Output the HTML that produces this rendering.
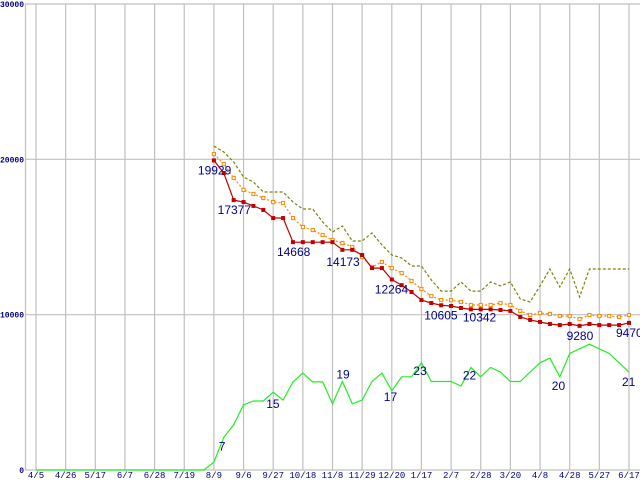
<!DOCTYPE html>
<html><head><meta charset="utf-8"><style>
html,body{margin:0;padding:0;background:#fff;}
svg{display:block;font-family:"Liberation Mono","DejaVu Sans Mono",monospace;}
</style></head><body>
<svg id="chart" width="640" height="480" viewBox="0 0 640 480" xmlns="http://www.w3.org/2000/svg"></svg>
<script>
const xLabels=["4/5","4/26","5/17","6/7","6/28","7/19","8/9","9/6","9/27","10/18","11/8","11/29","12/20","1/17","2/7","2/28","3/20","4/8","4/28","5/27","6/17"];
const yTicks=[0,10000,20000,30000];
const redVals=[19929,19120,17377,17250,17000,16740,16220,16220,14668,14668,14668,14668,14668,14173,14173,13840,13000,13000,12264,11900,11460,10940,10750,10605,10560,10430,10342,10342,10342,10300,10240,9850,9660,9530,9400,9330,9400,9280,9400,9330,9330,9330,9470];
const orangeVals=[20340,19700,18800,18030,17770,17510,17250,17190,16220,15640,15450,15130,14810,14610,14360,13710,13070,13390,13000,12680,12170,11650,11200,10940,10940,10820,10620,10620,10620,10750,10620,10240,9980,10110,10040,9910,9910,9720,9980,9910,9910,9850,9980];
const oliveVals=[20860,20470,19830,18860,18540,17900,17900,17900,17250,16800,16800,15970,15320,15710,14740,14740,15260,14490,13840,13650,13130,13130,12230,11520,11520,12100,11520,11520,12100,11850,12100,11010,10820,11850,12940,11780,12940,11140,12940,12940,12940,12940,12940];
const greenVals=[0,0,0,0,0,0,0,0,0,0,0,0,0,0,0,0,0,0,1.7,7,9.7,14,14.8,14.8,16.7,15,18.9,20.8,18.9,18.9,14.2,19,14.2,15,19,20.8,17,20,20,23,19,19,19,18,22,20,22,21,19,19,21,23,24,20,25,26,27,26,25,23,21];
const redLabels=[[0,"19929",-16,14],[2,"17377",-16,14],[8,"14668",-16,14],[13,"14173",-16,16],[18,"12264",-17,14],[23,"10605",-17,14],[26,"10342",-8,12],[37,"9280",-13,14],[42,"9470",-13,14]];
const greenLabels=[[19,"7",-5,13],[24,"15",-7,16],[31,"19",-6,-3],[36,"17",-8,10],[39,"23",-8,12],[44,"22",-8,12],[53,"20",-8,13],[60,"21",-7,14]];

const NS="http://www.w3.org/2000/svg";
const svg=document.getElementById('chart');
const X0=36,DX=9.883,Y0=470,YT=4,VMAX=30000,GMAX=100;
const xi=i=>X0+i*DX;
const yv=v=>Y0-(v/VMAX)*(Y0-YT);
const yg=v=>Y0-(v/GMAX)*(Y0-YT);
function mk(tag,attrs){const e=document.createElementNS(NS,tag);for(const k in attrs)e.setAttribute(k,attrs[k]);svg.appendChild(e);return e;}
xLabels.forEach((l,k)=>{
  const x=xi(k*3);
  const g=mk('line',{x1:x,y1:YT,x2:x,y2:Y0,stroke:'#c0c0c0','stroke-width':1.2});
  
  
  const t=mk('text',{x:x,y:478,'font-size':9,fill:'#000080','text-anchor':'middle'});
  t.textContent=l;
  
  
});
yTicks.forEach(v=>{
  const y=yv(v);
  const g=mk('line',{x1:25,y1:y,x2:640,y2:y,stroke:'#c0c0c0','stroke-width':1.2});
  
  
  const t=mk('text',{x:24,y:y+3,'font-size':8,fill:'#000080','text-anchor':'end','font-weight':'bold'});
  t.textContent=String(v);
  
  
});
const ax=mk('line',{x1:25.5,y1:YT,x2:25.5,y2:Y0,stroke:'#c0c0c0','stroke-width':1.2});


function series(vals,off,yf,color,dash,name){
  const pts=vals.map((v,i)=>xi(i+off).toFixed(1)+','+yf(v).toFixed(1)).join(' ');
  const p=mk('polyline',{points:pts,fill:'none',stroke:color,'stroke-width':1.2});
  if(dash)p.setAttribute('stroke-dasharray',dash);
  
  
}
series(greenVals,0,yg,'#22ee22',null,'green-series-line');
series(oliveVals,18,yv,'#808000','3,2','olive-series-line');
series(orangeVals,18,yv,'#ff8800','2,2','orange-series-line');
orangeVals.forEach((v,i)=>{
  const r=mk('rect',{x:xi(i+18)-1.6,y:yv(v)-1.6,width:3.2,height:3.2,fill:'#fff',stroke:'#ff8800','stroke-width':1});
  
  
});
series(redVals,18,yv,'#c00000',null,'red-series-line');
redVals.forEach((v,i)=>{
  const r=mk('rect',{x:xi(i+18)-2,y:yv(v)-2,width:4,height:4,fill:'#c00000'});
  
  
});
const lblFont='"Liberation Sans","DejaVu Sans",sans-serif';
redLabels.forEach(([i,s,dx,dy])=>{
  const t=mk('text',{x:xi(i+18)+dx,y:yv(redVals[i])+dy,'font-size':12,fill:'#000080','font-family':lblFont});
  t.textContent=s;
  
  
});
greenLabels.forEach(([i,s,dx,dy])=>{
  const t=mk('text',{x:xi(i)+dx,y:yg(greenVals[i])+dy,'font-size':12,fill:'#000080','font-family':lblFont});
  t.textContent=s;
  
  
});
</script>
</body></html>
